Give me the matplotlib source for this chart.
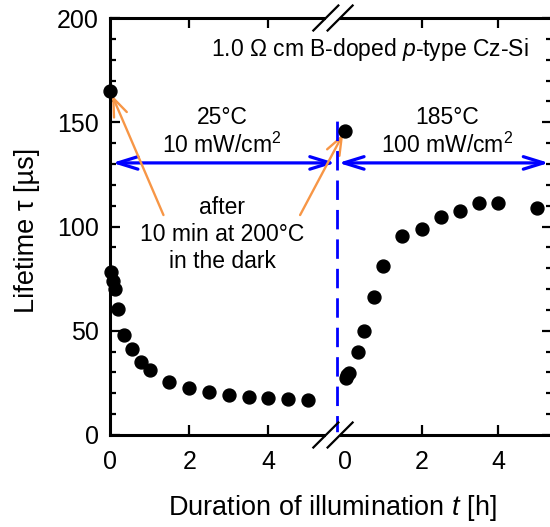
import numpy as np
import matplotlib
matplotlib.use("Agg")
import matplotlib.pyplot as plt
from matplotlib.ticker import MultipleLocator
import matplotlib.transforms as mtransforms

plt.rcParams['font.family'] = ['Liberation Sans', 'DejaVu Sans']
plt.rcParams['mathtext.fontset'] = 'custom'
plt.rcParams['mathtext.rm'] = 'Liberation Sans'
plt.rcParams['mathtext.it'] = 'Liberation Sans:italic'

# 25 C, 10 mW/cm2 (first segment), hours / microseconds
t1 = [0, 0.03, 0.07, 0.12, 0.2, 0.35, 0.55, 0.78, 1.0, 1.5, 2.0, 2.5, 3.0, 3.5, 4.0, 4.5, 5.0]
tau1 = [165, 78, 74, 70, 60.5, 48, 41.2, 34.8, 31, 25.3, 22.4, 20.4, 19, 18.3, 17.6, 17.1, 16.6]
# 185 C, 100 mW/cm2 (second segment)
t2 = [0, 0.02, 0.05, 0.1, 0.33, 0.5, 0.75, 1.0, 1.5, 2.0, 2.5, 3.0, 3.5, 4.0, 5.0]
tau2 = [146, 27.2, 28.8, 29.9, 39.7, 50, 66, 81, 95.4, 98.8, 104.7, 107.6, 111.1, 111.1, 109]
seg_ticks = [0, 2, 4]
seg_labels = ['0', '2', '4']

off = 5.934    # where the second segment starts on the shared axis
k = 0.967      # second segment is drawn slightly narrower
vline_x = 5.73

blue = '#0000FF'
orange = '#F79646'

fig = plt.figure(figsize=(5.5, 5.27), dpi=100)
ax = fig.add_axes([110 / 550, 92 / 527, 442 / 550, 417 / 527])

x2 = off + k * np.array(t2)
ax.plot(t1, tau1, 'o', color='black', ms=9.3, clip_on=False, zorder=5)
ax.plot(x2, tau2, 'o', color='black', ms=9.3, clip_on=False, zorder=5)

ax.set_xlim(0, 11.16)
ax.set_ylim(0, 200)

# axis styling
for s in ax.spines.values():
    s.set_linewidth(2.2)
ax.yaxis.set_major_locator(MultipleLocator(50))
ax.yaxis.set_minor_locator(MultipleLocator(10))
maj = [t for t in seg_ticks if t > 0]
ax.set_xticks(maj + [off + k * t for t in maj],
              [l for t, l in zip(seg_ticks, seg_labels) if t > 0] * 2)
ax.set_xticks([0, off], ['0', '0'], minor=True)
ax.tick_params(which='both', direction='in', top=True, right=True,
               labelsize=18, width=1.6)
ax.tick_params(which='major', length=7)
ax.tick_params(which='minor', length=4.5)
ax.tick_params(axis='x', which='both', pad=11)
ax.tick_params(axis='x', which='minor', length=0)
ax.tick_params(axis='y', which='both', pad=8)

ax.set_xlabel('Duration of illumination $t$ [h]', fontsize=19.5)
ax.set_ylabel('Lifetime τ [µs]', fontsize=19.5)
ax.xaxis.set_label_coords(0.502, -0.14)
ax.yaxis.set_label_coords(-0.158, 0.49)

# axis break marks
tr = mtransforms.blended_transform_factory(ax.transData, ax.transAxes)
for yy in (0, 1):
    ax.plot([5.45, 5.81], [yy, yy], color='white', lw=4, transform=tr,
            clip_on=False, zorder=6, solid_capstyle='butt')
    for cx in (5.45, 5.81):
        ax.plot([cx - 0.316, cx + 0.316], [yy - 0.03, yy + 0.03], color='black',
                lw=1.6, transform=tr, clip_on=False, zorder=7)

# dashed separator
ax.plot([vline_x, vline_x], [0, 153.5], color=blue, lw=2.0, dashes=(7, 3.6), zorder=4)

# blue double arrows
arr = dict(arrowstyle='<->,head_length=1.45,head_width=0.45', color=blue, lw=2.3,
           mutation_scale=10, shrinkA=0, shrinkB=0)
ax.annotate('', xy=(0.06, 130.5), xytext=(vline_x - 0.04, 130.5), arrowprops=arr)
ax.annotate('', xy=(vline_x + 0.04, 130.5), xytext=(11.08, 130.5), arrowprops=arr)

# orange arrows
oarr = dict(arrowstyle='->,head_length=1.3,head_width=0.5', color=orange, lw=1.7,
            mutation_scale=10, shrinkA=0, shrinkB=0)
ax.annotate('', xy=(0.05, 163), xytext=(1.35, 105.5), arrowprops=oarr)
ax.annotate('', xy=(5.89, 144.5), xytext=(4.80, 105.5), arrowprops=oarr)

# texts
fs = 16.5
ax.text(10.56, 184.7, '1.0 Ω cm B-doped $p$-type Cz-Si', ha='right', va='center',
        fontsize=fs)
ax.text(2.83, 152.5, '25°C', ha='center', va='center', fontsize=fs)
ax.text(2.83, 139, '10 mW/cm$^2$', ha='center', va='center', fontsize=fs)
ax.text(8.51, 152.5, '185°C', ha='center', va='center', fontsize=fs)
ax.text(8.51, 139, '100 mW/cm$^2$', ha='center', va='center', fontsize=fs)
ax.text(2.83, 96.2, 'after\n10 min at 200°C\nin the dark', ha='center', va='center',
        fontsize=fs, linespacing=1.2)

fig.savefig('out.png', dpi=100)
